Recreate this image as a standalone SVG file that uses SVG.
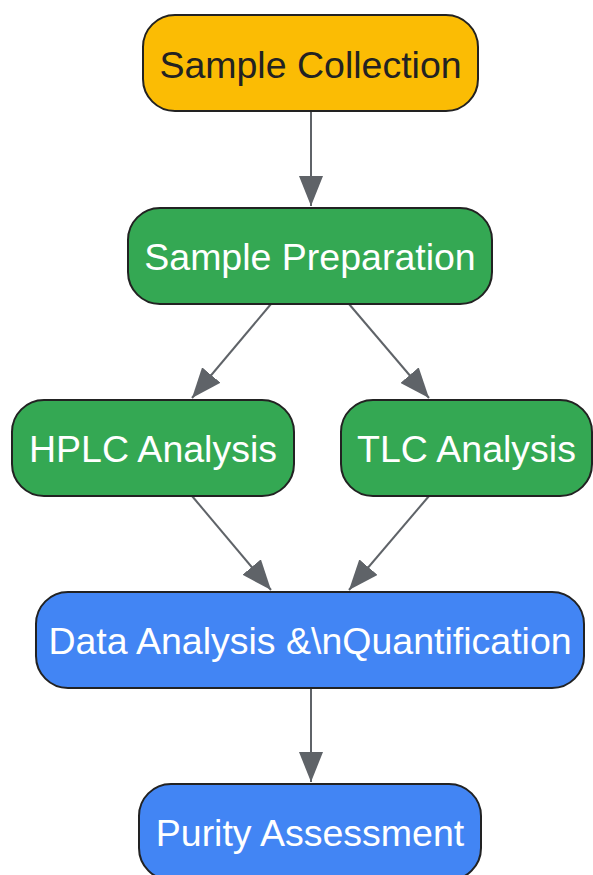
<svg xmlns="http://www.w3.org/2000/svg" width="593" height="875" viewBox="0 0 593 875">
<style>
.node rect{stroke:#222222;stroke-width:2}
.y rect{fill:#FBBC04}
.g rect{fill:#34A853}
.b rect{fill:#4285F4}
.node text{font-family:"Liberation Sans",Arial,sans-serif;font-size:37.5px;text-anchor:middle;fill:#ffffff}
.y text{fill:#222222}
.edge{stroke:#5F6368;stroke-width:2;fill:none}
</style>
<defs>
<marker id="arr" viewBox="0 0 30 24" refX="30" refY="12" markerWidth="30" markerHeight="24" markerUnits="userSpaceOnUse" orient="auto">
<path d="M0,0 L30,12 L0,24 z" fill="#5F6368"/>
</marker>
</defs>
<rect width="593" height="875" fill="#ffffff"/>
<g id="connectors">
<line class="edge" x1="311" y1="111" x2="311" y2="206" marker-end="url(#arr)"/>
<line class="edge" x1="271" y1="304" x2="192" y2="398" marker-end="url(#arr)"/>
<line class="edge" x1="349" y1="304" x2="429" y2="398" marker-end="url(#arr)"/>
<line class="edge" x1="192" y1="496" x2="271" y2="590" marker-end="url(#arr)"/>
<line class="edge" x1="429" y1="496" x2="349" y2="590" marker-end="url(#arr)"/>
<line class="edge" x1="311" y1="688" x2="311" y2="782" marker-end="url(#arr)"/>
</g>
<g id="sample-collection" class="node y">
<rect x="143" y="15" width="335" height="96" rx="32"/>
<text x="310.5" y="78">Sample Collection</text>
</g>
<g id="sample-preparation" class="node g">
<rect x="128" y="208" width="364" height="96" rx="32"/>
<text x="310" y="270">Sample Preparation</text>
</g>
<g id="hplc-analysis" class="node g">
<rect x="12" y="400" width="282" height="96" rx="32"/>
<text x="153" y="462">HPLC Analysis</text>
</g>
<g id="tlc-analysis" class="node g">
<rect x="341" y="400" width="251" height="96" rx="32"/>
<text x="466.5" y="462">TLC Analysis</text>
</g>
<g id="data-analysis" class="node b">
<rect x="36" y="592" width="548" height="96" rx="32"/>
<text x="310" y="654">Data Analysis &amp;\nQuantification</text>
</g>
<g id="purity-assessment" class="node b">
<rect x="139" y="784" width="342" height="96" rx="32"/>
<text x="310" y="846">Purity Assessment</text>
</g>
</svg>
